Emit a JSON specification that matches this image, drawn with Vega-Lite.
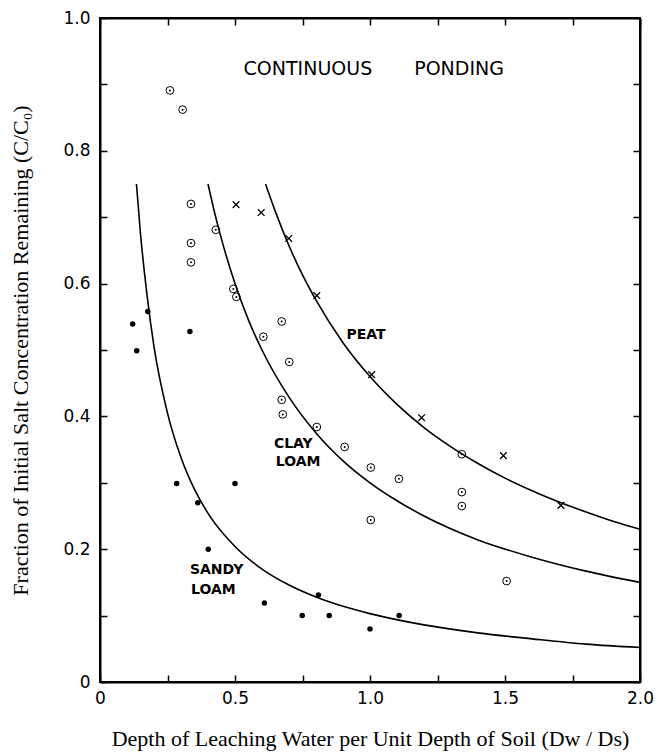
{
  "$schema": "https://vega.github.io/schema/vega-lite/v6.json",
  "width": 540,
  "height": 664,
  "autosize": "none",
  "padding": {"left": 100, "top": 18, "right": 19, "bottom": 74},
  "background": "white",
  "config": {"view": {"stroke": "black", "strokeWidth": 2}, "axis": {"grid": false}},
  "datasets": {
    "sandy": [
      {"x": 0.121, "y": 0.539}, {"x": 0.136, "y": 0.499}, {"x": 0.177, "y": 0.558},
      {"x": 0.333, "y": 0.528}, {"x": 0.284, "y": 0.299}, {"x": 0.5, "y": 0.299},
      {"x": 0.362, "y": 0.27}, {"x": 0.401, "y": 0.2}, {"x": 0.609, "y": 0.119},
      {"x": 0.809, "y": 0.131}, {"x": 0.749, "y": 0.1}, {"x": 0.849, "y": 0.1},
      {"x": 1.0, "y": 0.08}, {"x": 1.108, "y": 0.1}
    ],
    "clay": [
      {"x": 0.259, "y": 0.891}, {"x": 0.306, "y": 0.862}, {"x": 0.337, "y": 0.72},
      {"x": 0.337, "y": 0.661}, {"x": 0.337, "y": 0.632}, {"x": 0.429, "y": 0.681},
      {"x": 0.494, "y": 0.592}, {"x": 0.505, "y": 0.58}, {"x": 0.605, "y": 0.52},
      {"x": 0.673, "y": 0.543}, {"x": 0.701, "y": 0.482}, {"x": 0.673, "y": 0.425},
      {"x": 0.677, "y": 0.403}, {"x": 0.803, "y": 0.384}, {"x": 0.906, "y": 0.354},
      {"x": 1.003, "y": 0.323}, {"x": 1.107, "y": 0.306}, {"x": 1.34, "y": 0.343},
      {"x": 1.34, "y": 0.286}, {"x": 1.34, "y": 0.265}, {"x": 1.003, "y": 0.244},
      {"x": 1.506, "y": 0.152}
    ],
    "peat": [
      {"x": 0.504, "y": 0.719}, {"x": 0.597, "y": 0.707}, {"x": 0.699, "y": 0.668},
      {"x": 0.803, "y": 0.582}, {"x": 1.006, "y": 0.463}, {"x": 1.191, "y": 0.398},
      {"x": 1.494, "y": 0.341}, {"x": 1.707, "y": 0.266}
    ],
    "curves": [
      {"soil": "sandy", "x": 0.135, "y": 0.75}, {"soil": "sandy", "x": 0.15, "y": 0.675},
      {"soil": "sandy", "x": 0.175, "y": 0.58}, {"soil": "sandy", "x": 0.2, "y": 0.505},
      {"soil": "sandy", "x": 0.25, "y": 0.405}, {"soil": "sandy", "x": 0.3, "y": 0.338},
      {"soil": "sandy", "x": 0.35, "y": 0.29}, {"soil": "sandy", "x": 0.4, "y": 0.254},
      {"soil": "sandy", "x": 0.5, "y": 0.204}, {"soil": "sandy", "x": 0.6, "y": 0.17},
      {"soil": "sandy", "x": 0.7, "y": 0.146}, {"soil": "sandy", "x": 0.8, "y": 0.128},
      {"soil": "sandy", "x": 0.9, "y": 0.114}, {"soil": "sandy", "x": 1.0, "y": 0.103},
      {"soil": "sandy", "x": 1.2, "y": 0.086}, {"soil": "sandy", "x": 1.4, "y": 0.074},
      {"soil": "sandy", "x": 1.6, "y": 0.065}, {"soil": "sandy", "x": 1.8, "y": 0.057},
      {"soil": "sandy", "x": 2.0, "y": 0.052},
      {"soil": "clay", "x": 0.4, "y": 0.75}, {"soil": "clay", "x": 0.425, "y": 0.706},
      {"soil": "clay", "x": 0.45, "y": 0.667}, {"soil": "clay", "x": 0.5, "y": 0.6},
      {"soil": "clay", "x": 0.55, "y": 0.545}, {"soil": "clay", "x": 0.6, "y": 0.5},
      {"soil": "clay", "x": 0.7, "y": 0.429}, {"soil": "clay", "x": 0.8, "y": 0.375},
      {"soil": "clay", "x": 0.9, "y": 0.333}, {"soil": "clay", "x": 1.0, "y": 0.3},
      {"soil": "clay", "x": 1.1, "y": 0.273}, {"soil": "clay", "x": 1.2, "y": 0.25},
      {"soil": "clay", "x": 1.4, "y": 0.214}, {"soil": "clay", "x": 1.6, "y": 0.188},
      {"soil": "clay", "x": 1.8, "y": 0.167}, {"soil": "clay", "x": 2.0, "y": 0.15},
      {"soil": "peat", "x": 0.613, "y": 0.75}, {"soil": "peat", "x": 0.65, "y": 0.708},
      {"soil": "peat", "x": 0.7, "y": 0.657}, {"soil": "peat", "x": 0.75, "y": 0.613},
      {"soil": "peat", "x": 0.8, "y": 0.575}, {"soil": "peat", "x": 0.9, "y": 0.511},
      {"soil": "peat", "x": 1.0, "y": 0.46}, {"soil": "peat", "x": 1.1, "y": 0.418},
      {"soil": "peat", "x": 1.2, "y": 0.383}, {"soil": "peat", "x": 1.3, "y": 0.354},
      {"soil": "peat", "x": 1.4, "y": 0.329}, {"soil": "peat", "x": 1.5, "y": 0.307},
      {"soil": "peat", "x": 1.6, "y": 0.288}, {"soil": "peat", "x": 1.7, "y": 0.271},
      {"soil": "peat", "x": 1.8, "y": 0.256}, {"soil": "peat", "x": 1.9, "y": 0.242},
      {"soil": "peat", "x": 2.0, "y": 0.23}
    ],
    "heading": [
      {"text": "CONTINUOUS", "x": 0.77, "y": 0.923},
      {"text": "PONDING", "x": 1.33, "y": 0.923}
    ],
    "labels": [
      {"text": "PEAT", "x": 0.985, "y": 0.522},
      {"text": "CLAY", "x": 0.716, "y": 0.359},
      {"text": "LOAM", "x": 0.734, "y": 0.331},
      {"text": "SANDY", "x": 0.432, "y": 0.168},
      {"text": "LOAM", "x": 0.42, "y": 0.139}
    ]
  },
  "layer": [
    {
      "data": {"name": "curves"},
      "mark": {"type": "line", "color": "black", "strokeWidth": 1.6, "interpolate": "monotone"},
      "encoding": {
        "x": {"field": "x", "type": "quantitative", "scale": {"domain": [0, 2], "nice": false, "zero": false},
          "axis": {"orient": "top", "values": [0, 0.25, 0.5, 0.75, 1, 1.25, 1.5, 1.75, 2], "labels": false, "title": null,
            "tickSize": -7, "tickWidth": 1.5, "tickColor": "black", "domainColor": "black", "domainWidth": 2, "grid": false}},
        "y": {"field": "y", "type": "quantitative", "scale": {"domain": [0, 1], "nice": false, "zero": false},
          "axis": {"orient": "right", "values": [0, 0.1, 0.2, 0.3, 0.4, 0.5, 0.6, 0.7, 0.8, 0.9, 1], "labels": false, "title": null,
            "tickSize": -7, "tickWidth": 1.5, "tickColor": "black", "domainColor": "black", "domainWidth": 2, "grid": false}},
        "detail": {"field": "soil", "type": "nominal"}
      }
    },
    {
      "data": {"name": "sandy"},
      "mark": {"type": "point", "filled": true, "color": "black", "size": 30, "opacity": 1},
      "encoding": {
        "x": {"field": "x", "type": "quantitative",
          "axis": {"orient": "bottom", "values": [0, 0.25, 0.5, 0.75, 1, 1.25, 1.5, 1.75, 2],
            "labelExpr": "datum.value == 0 ? '0' : (round(datum.value * 4) % 2 == 0 ? format(datum.value, '.1f') : '')",
            "tickSize": -7, "tickWidth": 1.5, "tickColor": "black", "labelPadding": 15,
            "labelFont": "DejaVu Sans", "labelFontSize": 17, "labelColor": "black", "labelFlush": false, "labelOverlap": false,
            "domainColor": "black", "domainWidth": 2, "grid": false,
            "title": "Depth of Leaching Water per Unit Depth of Soil (Dw / Ds)",
            "titleFont": "Liberation Serif", "titleFontSize": 22, "titleFontWeight": "normal", "titleColor": "black",
            "titleX": 270, "titleY": 56, "titleAlign": "center", "titleBaseline": "middle"}},
        "y": {"field": "y", "type": "quantitative",
          "axis": {"orient": "left", "values": [0, 0.1, 0.2, 0.3, 0.4, 0.5, 0.6, 0.7, 0.8, 0.9, 1],
            "labelExpr": "datum.value == 0 ? '0' : (round(datum.value * 10) % 2 == 0 ? format(datum.value, '.1f') : '')",
            "tickSize": -7, "tickWidth": 1.5, "tickColor": "black", "labelPadding": 17,
            "labelFont": "DejaVu Sans", "labelFontSize": 17, "labelColor": "black", "labelFlush": false, "labelOverlap": false,
            "domainColor": "black", "domainWidth": 2, "grid": false,
            "title": "Fraction of Initial Salt Concentration Remaining (C/C₀)",
            "titleFont": "Liberation Serif", "titleFontSize": 22, "titleFontWeight": "normal", "titleColor": "black",
            "titleX": -80, "titleY": 332, "titleAlign": "center", "titleBaseline": "middle", "titleAngle": -90}}
      }
    },
    {
      "data": {"name": "clay"},
      "mark": {"type": "point", "filled": false, "color": "black", "size": 60, "strokeWidth": 1, "opacity": 1},
      "encoding": {
        "x": {"field": "x", "type": "quantitative", "axis": null},
        "y": {"field": "y", "type": "quantitative", "axis": null}
      }
    },
    {
      "data": {"name": "clay"},
      "mark": {"type": "point", "filled": true, "color": "black", "size": 4, "opacity": 1},
      "encoding": {
        "x": {"field": "x", "type": "quantitative", "axis": null},
        "y": {"field": "y", "type": "quantitative", "axis": null}
      }
    },
    {
      "data": {"name": "peat"},
      "mark": {"type": "point", "shape": "M-1,-1L1,1M1,-1L-1,1", "filled": false, "color": "black", "size": 45, "strokeWidth": 1.3, "opacity": 1},
      "encoding": {
        "x": {"field": "x", "type": "quantitative", "axis": null},
        "y": {"field": "y", "type": "quantitative", "axis": null}
      }
    },
    {
      "data": {"name": "heading"},
      "mark": {"type": "text", "font": "DejaVu Sans", "fontSize": 19, "color": "black", "align": "center", "baseline": "middle"},
      "encoding": {
        "x": {"field": "x", "type": "quantitative", "axis": null},
        "y": {"field": "y", "type": "quantitative", "axis": null},
        "text": {"field": "text", "type": "nominal"}
      }
    },
    {
      "data": {"name": "labels"},
      "mark": {"type": "text", "font": "DejaVu Sans", "fontSize": 14, "fontWeight": "bold", "color": "black", "align": "center", "baseline": "middle"},
      "encoding": {
        "x": {"field": "x", "type": "quantitative", "axis": null},
        "y": {"field": "y", "type": "quantitative", "axis": null},
        "text": {"field": "text", "type": "nominal"}
      }
    }
  ],
  "resolve": {"axis": {"x": "independent", "y": "independent"}}
}
